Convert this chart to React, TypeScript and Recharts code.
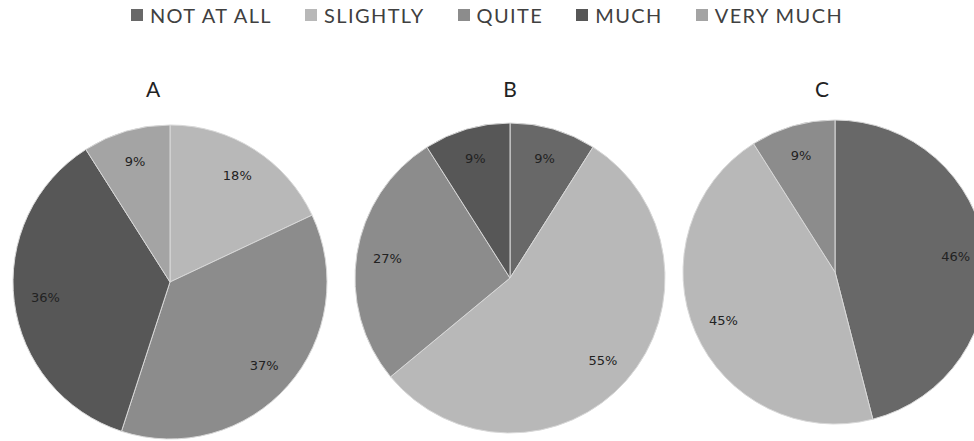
import React from 'react';
import { PieChart, Pie, Cell } from 'recharts';

const categories = ['NOT AT ALL', 'SLIGHTLY', 'QUITE', 'MUCH', 'VERY MUCH'];
const colors = ['#686868', '#b8b8b8', '#8c8c8c', '#575757', '#a4a4a4'];
const pieTitles = ['A', 'B', 'C'];
const valuesA = [0, 18, 37, 36, 9];
const valuesB = [9, 55, 27, 9, 0];
const valuesC = [46, 45, 9, 0, 0];

// where each pie sits on the canvas
const pieLayout = [
  { cx: 170, cy: 282, r: 157, titleX: 153 },
  { cx: 510, cy: 278, r: 155, titleX: 510 },
  { cx: 835, cy: 272, r: 152, titleX: 822 },
];

const RADIAN = Math.PI / 180;

const renderLabel = (props: any) => {
  const { cx, cy, midAngle, outerRadius, value } = props;
  const r = outerRadius * 0.8;
  const x = cx + r * Math.cos(-midAngle * RADIAN);
  const y = cy + r * Math.sin(-midAngle * RADIAN);
  return (
    <text x={x} y={y} fill="#222" fontSize={13} fontFamily="DejaVu Sans" textAnchor="middle" dominantBaseline="central">
      {value}%
    </text>
  );
};

const buildData = (values: number[]) =>
  categories
    .map((name, i) => ({ name, value: values[i], color: colors[i] }))
    .filter(d => d.value > 0);

const App: React.FC = () => {
  const pies = [valuesA, valuesB, valuesC].map(buildData);

  return (
    <div style={{ position: 'absolute', left: 0, top: 0, width: 974, height: 441, background: '#fff', overflow: 'hidden' }}>
      <PieChart width={974} height={441} margin={{ top: 0, right: 0, bottom: 0, left: 0 }}>
        {pies.map((data, p) => (
          <Pie
            key={p}
            data={data}
            dataKey="value"
            nameKey="name"
            cx={pieLayout[p].cx}
            cy={pieLayout[p].cy}
            outerRadius={pieLayout[p].r}
            startAngle={90}
            endAngle={-270}
            stroke="#d8d8d8"
            strokeWidth={1}
            label={renderLabel}
            labelLine={false}
            isAnimationActive={false}
          >
            {data.map(d => (
              <Cell key={d.name} fill={d.color} />
            ))}
          </Pie>
        ))}
      </PieChart>

      {/* legend */}
      <div
        style={{
          position: 'absolute',
          top: 3,
          left: 0,
          width: 974,
          display: 'flex',
          justifyContent: 'center',
          fontFamily: 'Lato, sans-serif',
          fontSize: 20,
          letterSpacing: 1.4,
          color: '#404040',
        }}
      >
        {categories.map((c, i) => (
          <div key={c} style={{ display: 'flex', alignItems: 'center', marginRight: i < categories.length - 1 ? 33 : 0 }}>
            <div style={{ width: 12, height: 12, background: colors[i], marginRight: 7 }}></div>
            <span>{c}</span>
          </div>
        ))}
      </div>

      {pieTitles.map((t, p) => (
        <div
          key={t}
          style={{
            position: 'absolute',
            top: 76,
            left: pieLayout[p].titleX - 20,
            width: 40,
            textAlign: 'center',
            fontFamily: 'Lato, sans-serif',
            fontSize: 21,
            color: '#222',
          }}
        >
          {t}
        </div>
      ))}
    </div>
  );
};

export default App;
